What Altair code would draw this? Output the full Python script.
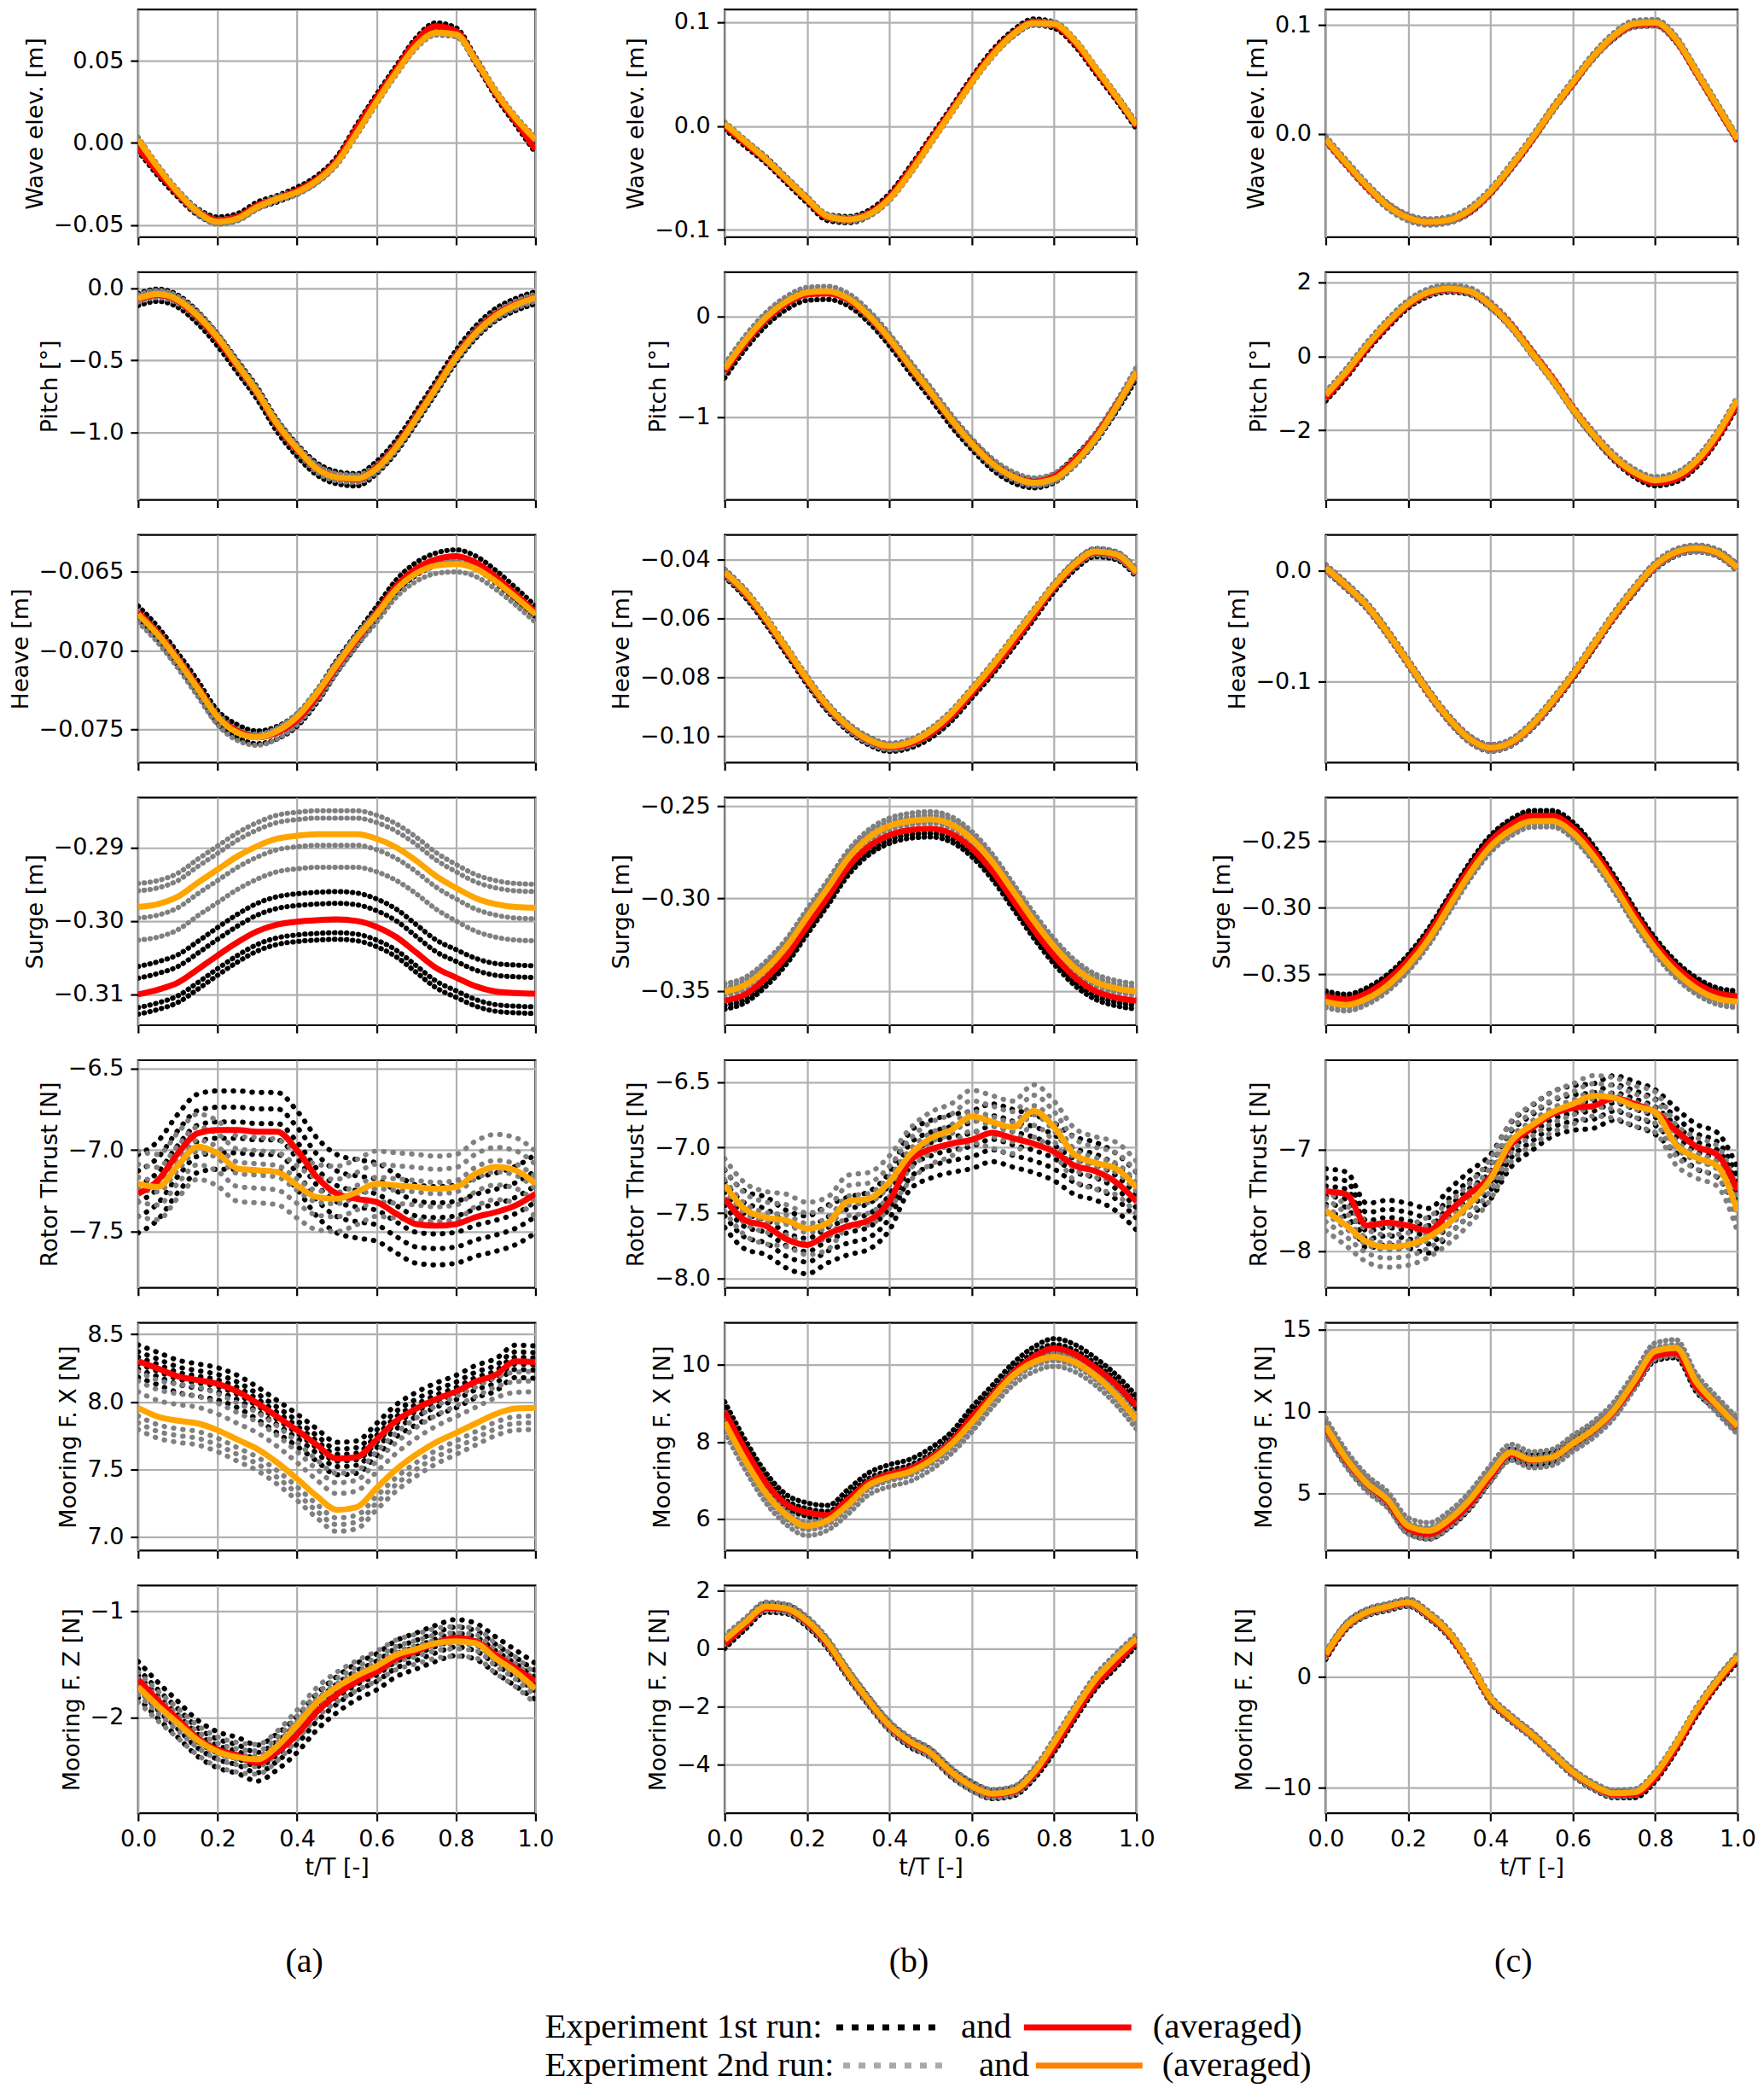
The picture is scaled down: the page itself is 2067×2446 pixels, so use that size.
import altair as alt
import pandas as pd

# ---------------- data ----------------
T = [0.0, 0.05, 0.1, 0.15, 0.2, 0.25, 0.3, 0.35, 0.4, 0.45, 0.5,
     0.55, 0.6, 0.65, 0.7, 0.75, 0.8, 0.85, 0.9, 0.95, 1.0]
XTICKS = [0.0, 0.2, 0.4, 0.6, 0.8, 1.0]
YTITLES = ["Wave elev. [m]", "Pitch [°]", "Heave [m]", "Surge [m]",
           "Rotor Thrust [N]", "Mooring F. X [N]", "Mooring F. Z [N]"]
COL_LABELS = ["(a)", "(b)", "(c)"]

# ---- column (a)
RED_A1 = [-0.003, -0.018, -0.031, -0.042, -0.047, -0.045, -0.038, -0.034, -0.029, -0.022, -0.0105,
          0.009, 0.0275, 0.045, 0.062, 0.071, 0.068, 0.050, 0.030, 0.013, -0.004]
ORG_A1 = [0.002, -0.015, -0.030, -0.042, -0.048, -0.046, -0.039, -0.034, -0.030, -0.023, -0.012,
          0.006, 0.025, 0.043, 0.059, 0.067, 0.066, 0.050, 0.031, 0.015, 0.002]
BOFF_A1 = [-0.002, 0.002]
GOFF_A1 = [-0.0015, 0.0015]

RED_A2 = [-0.075, -0.045, -0.086, -0.20, -0.355, -0.54, -0.727, -0.95, -1.12, -1.25, -1.31,
          -1.325, -1.24, -1.09, -0.89, -0.68, -0.47, -0.30, -0.18, -0.11, -0.063]
ORG_A2 = [-0.07, -0.04, -0.08, -0.19, -0.34, -0.53, -0.72, -0.94, -1.11, -1.25, -1.31,
          -1.32, -1.25, -1.10, -0.90, -0.69, -0.48, -0.31, -0.19, -0.115, -0.065]
BOFF_A2 = [-0.045, 0.04]
GOFF_A2 = [-0.025, 0.025]

RED_A3 = [-0.06756, -0.0689, -0.07055, -0.0723, -0.0742, -0.0751, -0.0755, -0.0752, -0.0744, -0.0729, -0.0710,
          -0.0693, -0.0676, -0.0659, -0.0648, -0.0642, -0.0640, -0.0644, -0.0653, -0.0664, -0.06756]
ORG_A3 = [-0.0677, -0.0690, -0.0706, -0.0724, -0.0742, -0.0752, -0.0755, -0.0751, -0.0742, -0.0727, -0.0709,
          -0.0692, -0.0677, -0.0661, -0.0651, -0.0646, -0.0645, -0.0648, -0.0656, -0.0666, -0.0677]
BOFF_A3 = [-0.0004, 0.0004]
GOFF_A3 = [-0.0005, 0.0002]

RED_A4 = [-0.3100, -0.30935, -0.3084, -0.3066, -0.3047, -0.3029, -0.3014, -0.3005, -0.3001, -0.2999, -0.2998,
          -0.3000, -0.3008, -0.3022, -0.3043, -0.3064, -0.3077, -0.3089, -0.3096, -0.3098, -0.3099]
ORG_A4 = [-0.2981, -0.2977, -0.2967, -0.2948, -0.2930, -0.2912, -0.2898, -0.2888, -0.2884, -0.2882, -0.2882,
          -0.2882, -0.2888, -0.2900, -0.2918, -0.2939, -0.2955, -0.2969, -0.2977, -0.2981, -0.2982]
BOFF_A4 = [0.0038, 0.0022, 0.0, -0.0018, -0.0027]
GOFF_A4 = [0.0032, 0.0022, -0.0015, -0.0045]

RED_A5 = [-7.267, -7.185, -7.02, -6.897, -6.877, -6.877, -6.887, -6.887, -7.0, -7.165, -7.267,
          -7.298, -7.318, -7.39, -7.453, -7.463, -7.453, -7.41, -7.38, -7.339, -7.267]
ORG_A5 = [-7.206, -7.226, -7.093, -6.979, -7.02, -7.113, -7.123, -7.134, -7.216, -7.288, -7.298,
          -7.257, -7.206, -7.216, -7.226, -7.237, -7.226, -7.144, -7.103, -7.124, -7.206]
BOFF_A5 = [-0.24, -0.14, -0.05, 0.05, 0.14, 0.24]
GOFF_A5 = [-0.2, -0.11, -0.03, 0.04, 0.12, 0.2]

RED_A6 = [8.302, 8.246, 8.189, 8.161, 8.133, 8.076, 7.99, 7.89, 7.79, 7.68, 7.58,
          7.59, 7.72, 7.86, 7.95, 8.02, 8.076, 8.15, 8.20, 8.30, 8.294]
ORG_A6 = [7.955, 7.89, 7.86, 7.84, 7.79, 7.72, 7.65, 7.55, 7.43, 7.30, 7.20,
          7.22, 7.36, 7.50, 7.61, 7.70, 7.77, 7.84, 7.91, 7.95, 7.955]
BOFF_A6 = [-0.12, -0.06, -0.02, 0.03, 0.07, 0.12]
GOFF_A6 = [0.27, 0.2, 0.12, -0.06, -0.11, -0.16]

RED_A7 = [-1.642, -1.839, -2.018, -2.197, -2.305, -2.358, -2.43, -2.323, -2.161, -1.946, -1.785,
          -1.66, -1.57, -1.444, -1.373, -1.30, -1.247, -1.283, -1.41, -1.534, -1.66]
ORG_A7 = [-1.713, -1.892, -2.054, -2.215, -2.323, -2.376, -2.394, -2.27, -2.07, -1.857, -1.713,
          -1.606, -1.516, -1.409, -1.355, -1.30, -1.283, -1.30, -1.444, -1.57, -1.731]
BOFF_A7 = [-0.17, -0.09, -0.03, 0.04, 0.1, 0.17]
GOFF_A7 = [-0.14, -0.07, -0.02, 0.03, 0.08, 0.14]

# ---- column (b)
RED_B1 = [0.0, -0.0167, -0.0327, -0.052, -0.071, -0.088, -0.090, -0.084, -0.068, -0.042, -0.0135,
          0.015, 0.044, 0.070, 0.089, 0.100, 0.097, 0.080, 0.054, 0.028, 0.0]
ORG_B1 = [0.002, -0.015, -0.032, -0.051, -0.070, -0.087, -0.090, -0.085, -0.070, -0.045, -0.016,
          0.013, 0.042, 0.068, 0.088, 0.099, 0.098, 0.082, 0.056, 0.029, 0.001]
BOFF_B1 = [-0.003, 0.003]
GOFF_B1 = [-0.002, 0.002]

RED_B2 = [-0.55, -0.265, -0.033, 0.13, 0.22, 0.23, 0.166, 0.0, -0.23, -0.50, -0.76,
          -1.03, -1.26, -1.46, -1.59, -1.64, -1.59, -1.42, -1.19, -0.89, -0.56]
ORG_B2 = [-0.52, -0.24, -0.01, 0.15, 0.24, 0.25, 0.18, 0.01, -0.22, -0.49, -0.75,
          -1.02, -1.26, -1.46, -1.59, -1.65, -1.61, -1.45, -1.21, -0.90, -0.55]
BOFF_B2 = [-0.06, 0.03]
GOFF_B2 = [-0.03, 0.05]

RED_B3 = [-0.0445, -0.0514, -0.0605, -0.0707, -0.0809, -0.0900, -0.0968, -0.1014, -0.1036, -0.1025, -0.0991,
          -0.0934, -0.0855, -0.0775, -0.0685, -0.0590, -0.0495, -0.0420, -0.0375, -0.0385, -0.0445]
ORG_B3 = [-0.0443, -0.0510, -0.0600, -0.0702, -0.0805, -0.0897, -0.0966, -0.1012, -0.1033, -0.1020, -0.0982,
          -0.0922, -0.0843, -0.0760, -0.0670, -0.0578, -0.0488, -0.0415, -0.0372, -0.0382, -0.0443]
BOFF_B3 = [-0.0015, 0.0012]
GOFF_B3 = [-0.0012, 0.001]

RED_B4 = [-0.3553, -0.3518, -0.343, -0.331, -0.315, -0.2993, -0.283, -0.272, -0.2658, -0.263, -0.2623,
          -0.265, -0.273, -0.2853, -0.301, -0.3168, -0.331, -0.3425, -0.350, -0.3535, -0.3553]
ORG_B4 = [-0.3503, -0.3468, -0.3382, -0.326, -0.310, -0.2945, -0.2782, -0.267, -0.2608, -0.2582, -0.2573,
          -0.2600, -0.2680, -0.2803, -0.2960, -0.3118, -0.3260, -0.3375, -0.3450, -0.3485, -0.3503]
BOFF_B4 = [-0.0045, -0.0025]
GOFF_B4 = [0.0022, 0.0042, -0.002]

RED_B5 = [-7.39, -7.556, -7.598, -7.70, -7.743, -7.66, -7.598, -7.556, -7.41, -7.10, -7.013,
          -6.97, -6.94, -6.887, -6.929, -6.97, -7.033, -7.138, -7.18, -7.263, -7.41]
ORG_B5 = [-7.284, -7.472, -7.535, -7.556, -7.618, -7.577, -7.41, -7.39, -7.263, -7.054, -6.929,
          -6.866, -6.762, -6.804, -6.845, -6.72, -6.845, -7.054, -7.117, -7.159, -7.305]
BOFF_B5 = [-0.22, -0.13, -0.05, 0.05, 0.13, 0.22]
GOFF_B5 = [-0.2, -0.11, -0.03, 0.04, 0.12, 0.2]

RED_B6 = [8.79, 7.80, 6.95, 6.38, 6.17, 6.10, 6.52, 6.95, 7.16, 7.30, 7.59,
          8.0, 8.65, 9.22, 9.79, 10.21, 10.43, 10.28, 9.93, 9.50, 8.94]
ORG_B6 = [8.51, 7.52, 6.67, 6.10, 5.82, 5.96, 6.38, 6.88, 7.09, 7.23, 7.52,
          7.94, 8.51, 9.15, 9.72, 10.07, 10.21, 10.07, 9.72, 9.22, 8.58]
BOFF_B6 = [0.25, 0.1, -0.1]
GOFF_B6 = [-0.25, -0.1, 0.1]

RED_B7 = [0.15, 0.81, 1.40, 1.35, 0.90, 0.15, -0.88, -1.82, -2.67, -3.24, -3.61,
          -4.27, -4.74, -5.02, -4.93, -4.36, -3.42, -2.30, -1.26, -0.51, 0.24]
ORG_B7 = [0.30, 0.90, 1.45, 1.38, 0.95, 0.20, -0.85, -1.80, -2.65, -3.20, -3.60,
          -4.25, -4.74, -5.00, -4.90, -4.28, -3.24, -2.11, -1.07, -0.32, 0.34]
BOFF_B7 = [-0.15, 0.15]
GOFF_B7 = [-0.15, 0.15]

# ---- column (c)
RED_C1 = [-0.006, -0.028, -0.049, -0.066, -0.077, -0.081, -0.079, -0.071, -0.054, -0.031, -0.006,
          0.022, 0.046, 0.071, 0.089, 0.100, 0.101, 0.086, 0.056, 0.025, -0.006]
ORG_C1 = [-0.005, -0.027, -0.048, -0.066, -0.077, -0.081, -0.079, -0.070, -0.053, -0.030, -0.005,
          0.022, 0.047, 0.071, 0.090, 0.101, 0.102, 0.087, 0.057, 0.026, -0.005]
BOFF_C1 = [-0.002, 0.002]
GOFF_C1 = [-0.003, 0.003]

RED_C2 = [-1.13, -0.50, 0.22, 0.84, 1.38, 1.70, 1.81, 1.74, 1.38, 0.84, 0.13,
          -0.59, -1.40, -2.12, -2.74, -3.19, -3.42, -3.32, -2.92, -2.21, -1.27]
ORG_C2 = [-1.05, -0.42, 0.28, 0.90, 1.42, 1.73, 1.83, 1.75, 1.38, 0.82, 0.10,
          -0.62, -1.42, -2.12, -2.72, -3.14, -3.35, -3.24, -2.83, -2.12, -1.17]
BOFF_C2 = [-0.08, 0.05]
GOFF_C2 = [-0.08, 0.1]

RED_C3 = [0.0024, -0.0138, -0.0317, -0.0557, -0.0826, -0.1096, -0.1335, -0.1515, -0.1593, -0.1545, -0.1395,
          -0.1186, -0.0946, -0.0677, -0.0407, -0.0168, 0.0042, 0.0162, 0.0200, 0.0162, 0.0024]
ORG_C3 = [0.0026, -0.0135, -0.0315, -0.0555, -0.0824, -0.1094, -0.1333, -0.1514, -0.1592, -0.1542, -0.1390,
          -0.1178, -0.0936, -0.0667, -0.0398, -0.0160, 0.0048, 0.0166, 0.0202, 0.0164, 0.0026]
BOFF_C3 = [-0.003, 0.003]
GOFF_C3 = [-0.003, 0.003]

RED_C4 = [-0.3663, -0.3688, -0.3639, -0.354, -0.3391, -0.3193, -0.2946, -0.270, -0.250, -0.2376, -0.2312,
          -0.2312, -0.240, -0.2574, -0.2797, -0.3045, -0.3267, -0.3441, -0.3564, -0.3639, -0.3663]
ORG_C4 = [-0.3703, -0.3728, -0.3680, -0.3582, -0.3432, -0.3235, -0.2988, -0.2742, -0.2542, -0.2418, -0.2352,
          -0.2350, -0.2438, -0.2612, -0.2836, -0.3085, -0.3306, -0.3480, -0.3604, -0.3679, -0.3703]
BOFF_C4 = [0.002, 0.004]
GOFF_C4 = [-0.002, -0.0045]

RED_C5 = [-7.41, -7.44, -7.75, -7.72, -7.75, -7.80, -7.61, -7.43, -7.27, -6.95, -6.79,
          -6.65, -6.59, -6.57, -6.49, -6.55, -6.63, -6.81, -6.97, -7.05, -7.40]
ORG_C5 = [-7.60, -7.75, -7.91, -7.96, -7.94, -7.86, -7.72, -7.53, -7.29, -6.92, -6.76,
          -6.63, -6.55, -6.47, -6.49, -6.57, -6.63, -6.95, -7.08, -7.16, -7.61]
BOFF_C5 = [-0.22, -0.13, -0.05, 0.05, 0.13, 0.22]
GOFF_C5 = [-0.2, -0.11, -0.03, 0.04, 0.12, 0.2]

RED_C6 = [9.03, 7.02, 5.55, 4.50, 2.84, 2.50, 3.18, 4.35, 6.02, 7.40, 7.02,
          7.19, 8.03, 8.87, 10.04, 11.71, 13.40, 13.60, 11.50, 10.37, 9.03]
ORG_C6 = [9.10, 7.10, 5.60, 4.60, 3.00, 2.70, 3.40, 4.60, 6.20, 7.50, 7.05,
          7.20, 8.05, 8.90, 10.10, 11.90, 13.70, 13.90, 11.80, 10.40, 9.10]
BOFF_C6 = [-0.3, 0.3]
GOFF_C6 = [-0.5, -0.2, 0.2, 0.5]

RED_C7 = [1.85, 4.54, 5.76, 6.24, 6.63, 5.51, 3.80, 1.12, -2.05, -3.76, -5.22,
          -6.93, -8.63, -9.85, -10.59, -10.59, -9.12, -6.44, -3.27, -0.59, 1.61]
ORG_C7 = [2.0, 4.6, 5.8, 6.3, 6.7, 5.6, 3.9, 1.2, -1.95, -3.7, -5.2,
          -6.9, -8.6, -9.8, -10.5, -10.4, -8.8, -6.1, -3.0, -0.4, 1.8]
BOFF_C7 = [-0.3, 0.3]
GOFF_C7 = [-0.3, 0.3]

# axis domains / tick values
COLUMNS = [
    [  # (a)
        dict(red=RED_A1, org=ORG_A1, bo=BOFF_A1, go=GOFF_A1, dom=[-0.0574, 0.0811], ticks=[-0.05, 0.0, 0.05], fmt=".2f"),
        dict(red=RED_A2, org=ORG_A2, bo=BOFF_A2, go=GOFF_A2, dom=[-1.467, 0.112], ticks=[-1.0, -0.5, 0.0], fmt=".1f"),
        dict(red=RED_A3, org=ORG_A3, bo=BOFF_A3, go=GOFF_A3, dom=[-0.0771, -0.06265], ticks=[-0.075, -0.070, -0.065], fmt=".3f"),
        dict(red=RED_A4, org=ORG_A4, bo=BOFF_A4, go=GOFF_A4, dom=[-0.3142, -0.2832], ticks=[-0.31, -0.30, -0.29], fmt=".2f"),
        dict(red=RED_A5, org=ORG_A5, bo=BOFF_A5, go=GOFF_A5, dom=[-7.844, -6.449], ticks=[-7.5, -7.0, -6.5], fmt=".1f"),
        dict(red=RED_A6, org=ORG_A6, bo=BOFF_A6, go=GOFF_A6, dom=[6.898, 8.585], ticks=[7.0, 7.5, 8.0, 8.5], fmt=".1f"),
        dict(red=RED_A7, org=ORG_A7, bo=BOFF_A7, go=GOFF_A7, dom=[-2.903, -0.756], ticks=[-2, -1], fmt=".0f"),
    ],
    [  # (b)
        dict(red=RED_B1, org=ORG_B1, bo=BOFF_B1, go=GOFF_B1, dom=[-0.107, 0.112], ticks=[-0.1, 0.0, 0.1], fmt=".1f"),
        dict(red=RED_B2, org=ORG_B2, bo=BOFF_B2, go=GOFF_B2, dom=[-1.82, 0.44], ticks=[-1, 0], fmt=".0f"),
        dict(red=RED_B3, org=ORG_B3, bo=BOFF_B3, go=GOFF_B3, dom=[-0.1089, -0.0316], ticks=[-0.10, -0.08, -0.06, -0.04], fmt=".2f"),
        dict(red=RED_B4, org=ORG_B4, bo=BOFF_B4, go=GOFF_B4, dom=[-0.3685, -0.2455], ticks=[-0.35, -0.30, -0.25], fmt=".2f"),
        dict(red=RED_B5, org=ORG_B5, bo=BOFF_B5, go=GOFF_B5, dom=[-8.071, -6.333], ticks=[-8.0, -7.5, -7.0, -6.5], fmt=".1f"),
        dict(red=RED_B6, org=ORG_B6, bo=BOFF_B6, go=GOFF_B6, dom=[5.18, 11.09], ticks=[6, 8, 10], fmt=".0f"),
        dict(red=RED_B7, org=ORG_B7, bo=BOFF_B7, go=GOFF_B7, dom=[-5.67, 2.17], ticks=[-4, -2, 0, 2], fmt=".0f"),
    ],
    [  # (c)
        dict(red=RED_C1, org=ORG_C1, bo=BOFF_C1, go=GOFF_C1, dom=[-0.095, 0.114], ticks=[0.0, 0.1], fmt=".1f"),
        dict(red=RED_C2, org=ORG_C2, bo=BOFF_C2, go=GOFF_C2, dom=[-3.88, 2.27], ticks=[-2, 0, 2], fmt=".0f"),
        dict(red=RED_C3, org=ORG_C3, bo=BOFF_C3, go=GOFF_C3, dom=[-0.1725, 0.0323], ticks=[-0.1, 0.0], fmt=".1f"),
        dict(red=RED_C4, org=ORG_C4, bo=BOFF_C4, go=GOFF_C4, dom=[-0.388, -0.2175], ticks=[-0.35, -0.30, -0.25], fmt=".2f"),
        dict(red=RED_C5, org=ORG_C5, bo=BOFF_C5, go=GOFF_C5, dom=[-8.364, -6.118], ticks=[-8, -7], fmt=".0f"),
        dict(red=RED_C6, org=ORG_C6, bo=BOFF_C6, go=GOFF_C6, dom=[1.49, 15.43], ticks=[5, 10, 15], fmt=".0f"),
        dict(red=RED_C7, org=ORG_C7, bo=BOFF_C7, go=GOFF_C7, dom=[-12.29, 8.2], ticks=[-10, 0], fmt=".0f"),
    ],
]

# ---------------- layout / style ----------------
WIDTHS = [466, 483, 483]
PANEL_H = 267
ROW_GAP = 41
COL_GAP = 222
BLACK = "#000000"
GREY = "#808080"
RED = "#ff0000"
ORANGE = "#ffa500"
DOT = dict(strokeWidth=6, strokeDash=[0.5, 6.5], strokeCap="round", interpolate="monotone", clip=True)
SPARSE_DOT = dict(strokeWidth=6, strokeDash=[0.5, 10.5], strokeCap="round", interpolate="monotone", clip=True)
LINE = dict(strokeWidth=7, interpolate="monotone", clip=True)


def dots_frame(vals, offs):
    rows = []
    for k, o in enumerate(offs):
        for t, v in zip(T, vals):
            rows.append({"t": t, "v": v + o, "g": k})
    return pd.DataFrame(rows)


def legend_layers():
    one = pd.DataFrame({"k": [0]})
    layers = []

    def txt(s, x, y, size=41):
        return alt.Chart(one).mark_text(font="Liberation Serif", fontSize=size, color="black",
                                        align="left", baseline="middle").encode(
            x=alt.value(x), y=alt.value(y), text=alt.value(s))

    def rule(x1, x2, y, color, dash=None):
        kw = dict(color=color, strokeWidth=7)
        if dash is not None:
            kw["strokeDash"] = dash
        return alt.Chart(one).mark_rule(**kw).encode(x=alt.value(x1), x2=alt.value(x2), y=alt.value(y))

    # column labels (a) (b) (c)
    for lab, xc in zip(COL_LABELS, [-493, 216, 925]):
        layers.append(alt.Chart(one).mark_text(font="Liberation Serif", fontSize=40, color="black",
                                               align="center", baseline="middle").encode(
            x=alt.value(xc), y=alt.value(441), text=alt.value(lab)))
    # row 1
    layers.append(txt("Experiment 1st run:", -211, 518))
    layers.append(rule(131, 254, 518, BLACK, [8, 10]))
    layers.append(txt("and", 277, 518))
    layers.append(rule(351, 477, 518, RED))
    layers.append(txt("(averaged)", 502, 518))
    # row 2
    layers.append(txt("Experiment 2nd run:", -211, 563))
    layers.append(rule(139, 263, 563, "#a9a9a9", [8, 10]))
    layers.append(txt("and", 298, 563))
    layers.append(rule(365, 490, 563, "#ff8000"))
    layers.append(txt("(averaged)", 513, 563))
    return layers


def panel(spec, ytitle, width, bottom, extra, noisy):
    xax = alt.Axis(values=XTICKS, format=".1f", labels=bottom, title="t/T [-]" if bottom else "",
                   labelFlush=False, labelOverlap=False)
    yax = alt.Axis(values=spec["ticks"], format=spec["fmt"], title=ytitle,
                   labelFlush=False, labelOverlap=False)
    x = alt.X("t:Q", scale=alt.Scale(domain=[0, 1], nice=False, zero=False), axis=xax)
    y = alt.Y("v:Q", scale=alt.Scale(domain=spec["dom"], nice=False, zero=False), axis=yax)
    dot = SPARSE_DOT if noisy else DOT

    black = alt.Chart(dots_frame(spec["red"], spec["bo"])).mark_line(color=BLACK, **dot).encode(
        x=x, y=y, detail="g:N")
    grey = alt.Chart(dots_frame(spec["org"], spec["go"])).mark_line(color=GREY, **dot).encode(
        x=x, y=y, detail="g:N")
    red = alt.Chart(pd.DataFrame({"t": T, "v": spec["red"]})).mark_line(color=RED, **LINE).encode(x=x, y=y)
    org = alt.Chart(pd.DataFrame({"t": T, "v": spec["org"]})).mark_line(color=ORANGE, **LINE).encode(x=x, y=y)
    return alt.layer(black, grey, red, org, *extra).properties(width=width, height=PANEL_H)


cells = []
n_rows = len(YTITLES)
for ri in range(n_rows):
    for ci, col in enumerate(COLUMNS):
        bottom = ri == n_rows - 1
        extra = legend_layers() if (bottom and ci == 1) else []
        noisy = len(col[ri]["bo"]) >= 6
        cells.append(panel(col[ri], YTITLES[ri], WIDTHS[ci], bottom, extra, noisy))

chart = alt.concat(*cells, columns=3, spacing={"row": ROW_GAP, "column": COL_GAP},
                   bounds="flush", align="each").properties(
    padding={"left": 0, "top": 0, "right": 0, "bottom": 0}
).configure_axis(
    labelFont="DejaVu Sans", labelFontSize=27, labelColor="black",
    titleFont="DejaVu Sans", titleFontSize=27, titleFontWeight="normal", titleColor="black",
    tickColor="black", tickSize=9, tickWidth=2.2, domain=False,
    grid=True, gridColor="#b0b0b0", gridWidth=2.2, gridOpacity=1,
    labelPadding=8, titlePadding=7,
).configure_view(stroke="black", strokeWidth=2.2)

chart.save("out.html", embed_options={"renderer": "svg", "actions": False})
